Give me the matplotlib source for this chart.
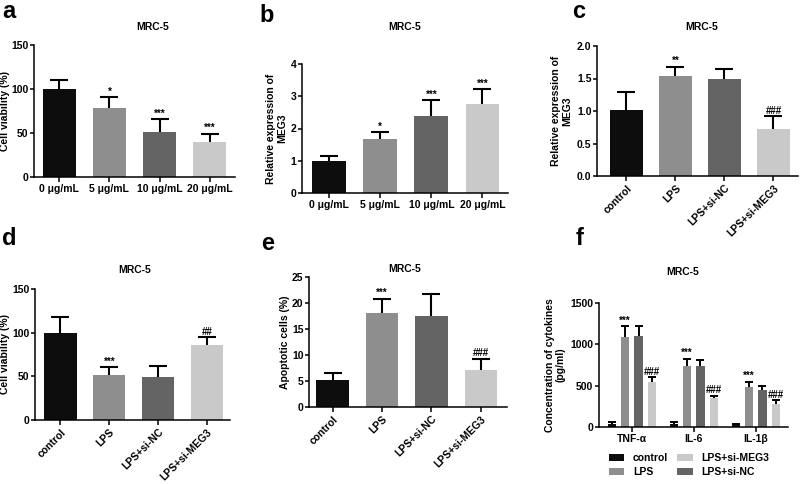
import matplotlib
matplotlib.use("Agg")
import matplotlib.pyplot as plt
from matplotlib.patches import Patch
import numpy as np

plt.rcParams['font.family'] = ['Liberation Sans', 'DejaVu Sans']
plt.rcParams['font.weight'] = 'bold'

# ---------------- data ----------------
dose_cats = ['0 μg/mL', '5 μg/mL', '10 μg/mL', '20 μg/mL']
grp_cats = ['control', 'LPS', 'LPS+si-NC', 'LPS+si-MEG3']

a_vals = [100, 78, 51, 40]
a_err = [10, 12.5, 14.5, 9]
a_sig = ['', '*', '***', '***']

b_vals = [1.0, 1.68, 2.38, 2.75]
b_err = [0.15, 0.21, 0.5, 0.47]
b_sig = ['', '*', '***', '***']

c_vals = [1.02, 1.54, 1.50, 0.72]
c_err = [0.28, 0.14, 0.15, 0.20]
c_sig = ['', '**', '', '###']

d_vals = [100, 51, 49, 85.5]
d_err = [18, 9.5, 13, 9]
d_sig = ['', '***', '', '##']

e_vals = [5.2, 18.1, 17.5, 7.1]
e_err = [1.3, 2.7, 4.3, 2.1]
e_sig = ['', '***', '', '###']

f_groups = ['TNF-α', 'IL-6', 'IL-1β']
f_series = ['control', 'LPS', 'LPS+si-NC', 'LPS+si-MEG3']
f_control = [41, 41, 29]
f_control_err = [14, 14, 7]
f_lps = [1094, 738, 486]
f_lps_err = [122, 85, 61]
f_sinc = [1102, 738, 446]
f_sinc_err = [122, 77, 52]
f_simeg3 = [539, 345, 284]
f_simeg3_err = [61, 36, 40]
f_sig = {'LPS': '***', 'LPS+si-MEG3': '###'}

colors = ['#0d0d0d', '#8e8e8e', '#646464', '#c9c9c9']
f_colors = {'control': '#0d0d0d', 'LPS': '#8e8e8e',
            'LPS+si-NC': '#646464', 'LPS+si-MEG3': '#c9c9c9'}

# ---------------- layout helpers ----------------
W, H = 800, 484
fig = plt.figure(figsize=(8, 4.84), dpi=100)
fig.patch.set_facecolor('white')

def add_ax(l, r, t, b):
    return fig.add_axes([l / W, 1 - b / H, (r - l) / W, (b - t) / H])

FS = 7.5

def style(ax, ylim, yticks, ylabel, lab_right_px, l, r, fmt=None):
    for s in ['top', 'right']:
        ax.spines[s].set_visible(False)
    for s in ['left', 'bottom']:
        ax.spines[s].set_linewidth(1.1)
    ax.set_ylim(*ylim)
    ax.set_yticks(yticks)
    if fmt:
        ax.set_yticklabels([fmt.format(v) for v in yticks])
    ax.tick_params(axis='both', direction='out', length=3.5, width=1.1,
                   labelsize=FS, pad=1.5)
    ax.tick_params(axis='y', pad=1.0, length=3)
    for t in ax.get_yticklabels() + ax.get_xticklabels():
        t.set_fontweight('bold')
    ax.set_ylabel(ylabel, fontsize=FS, fontweight='bold', linespacing=1.1)
    ax.yaxis.set_label_coords((lab_right_px - l) / (r - l), 0.5)

def bars(ax, vals, errs, sigs, width, capsize, xlim):
    x = np.arange(len(vals))
    ax.bar(x, vals, width=width, color=colors, edgecolor='none', zorder=2)
    eb = ax.errorbar(x, vals, yerr=[np.zeros(len(vals)), errs], fmt='none',
                     ecolor='black', elinewidth=1.5, capsize=capsize,
                     capthick=1.5, zorder=3)
    eb[1][0].set_visible(False)
    for xi, v, e, s in zip(x, vals, errs, sigs):
        if s:
            ax.annotate(s, (xi, v + e), xytext=(0, 0.5), textcoords='offset points',
                        ha='center', va='bottom', fontsize=7, fontweight='bold')
    ax.set_xlim(*xlim)
    ax.set_xticks(x)

def title(x, y, txt='MRC-5'):
    fig.text(x / W, 1 - y / H, txt, ha='center', va='center',
             fontsize=FS, fontweight='bold')

def letter(x, y, txt):
    fig.text(x / W, 1 - y / H, txt, ha='left', va='baseline',
             fontsize=17, fontweight='bold')

# ---------------- panel a ----------------
l, r, t, b = 34, 235, 45, 177
ax = add_ax(l, r, t, b)
bars(ax, a_vals, a_err, a_sig, 0.66, 6.5, (-0.5, 3.5))
ax.set_xticklabels(dose_cats)
style(ax, (0, 150), [0, 50, 100, 150], 'Cell viability (%)', 10, l, r)
title(153, 27)
letter(2, 18, 'a')

# ---------------- panel b ----------------
l, r, t, b = 302, 508, 64, 193
ax = add_ax(l, r, t, b)
bars(ax, b_vals, b_err, b_sig, 0.66, 6.5, (-0.53, 3.5))
ax.set_xticklabels(dose_cats)
style(ax, (0, 4), [0, 1, 2, 3, 4], 'Relative expression of\nMEG3', 287, l, r)
title(405, 27)
letter(259, 22, 'b')

# ---------------- panel c ----------------
l, r, t, b = 597, 798, 46, 176
ax = add_ax(l, r, t, b)
bars(ax, c_vals, c_err, c_sig, 0.66, 6.5, (-0.6, 3.5))
ax.set_xticklabels(grp_cats, rotation=45, ha='right', rotation_mode='anchor')
style(ax, (0, 2.0), [0.0, 0.5, 1.0, 1.5, 2.0], 'Relative expression of\nMEG3',
      572, l, r, fmt='{:.1f}')
title(702, 27)
letter(572, 18, 'c')

# ---------------- panel d ----------------
l, r, t, b = 35, 230, 289, 420
ax = add_ax(l, r, t, b)
bars(ax, d_vals, d_err, d_sig, 0.66, 6.5, (-0.52, 3.47))
ax.set_xticklabels(grp_cats, rotation=45, ha='right', rotation_mode='anchor')
style(ax, (0, 150), [0, 50, 100, 150], 'Cell viability (%)', 10, l, r)
title(135, 270)
letter(2, 245, 'd')

# ---------------- panel e ----------------
l, r, t, b = 309, 507, 277, 407
ax = add_ax(l, r, t, b)
bars(ax, e_vals, e_err, e_sig, 0.66, 6.5, (-0.48, 3.53))
ax.set_xticklabels(grp_cats, rotation=45, ha='right', rotation_mode='anchor')
style(ax, (0, 25), [0, 5, 10, 15, 20, 25], 'Apoptotic cells (%)', 290, l, r)
title(405, 269)
letter(261, 250, 'e')

# ---------------- panel f ----------------
l, r, t, b = 599, 788, 303, 427
ax = add_ax(l, r, t, b)
xg = np.arange(len(f_groups))
series_vals = {'control': (f_control, f_control_err),
               'LPS': (f_lps, f_lps_err),
               'LPS+si-NC': (f_sinc, f_sinc_err),
               'LPS+si-MEG3': (f_simeg3, f_simeg3_err)}
step = 0.215
bw = 0.135
for i, name in enumerate(f_series):
    vals, errs = series_vals[name]
    xs = xg + (i - 1.5) * step
    ax.bar(xs, vals, width=bw, color=f_colors[name], edgecolor='none', zorder=2)
    eb = ax.errorbar(xs, vals, yerr=[np.zeros(len(vals)), errs], fmt='none',
                     ecolor='black', elinewidth=1.4, capsize=2.8, capthick=1.4,
                     zorder=3)
    eb[1][0].set_visible(False)
    if name in f_sig:
        for xi, v, e in zip(xs, vals, errs):
            ax.annotate(f_sig[name], (xi, v + e), xytext=(0, 0.5),
                        textcoords='offset points', ha='center', va='bottom',
                        fontsize=7, fontweight='bold')
ax.set_xlim(-0.53, 2.52)
ax.set_xticks(xg)
ax.set_xticklabels(f_groups)
style(ax, (0, 1500), [0, 500, 1000, 1500], 'Concentration of cytokines\n(pg/ml)',
      566, l, r)
title(683, 272)
letter(576, 245, 'f')

handles = [Patch(facecolor=f_colors[n], edgecolor='none') for n in
           ['control', 'LPS', 'LPS+si-MEG3', 'LPS+si-NC']]
labels = ['control', 'LPS', 'LPS+si-MEG3', 'LPS+si-NC']
fig.legend(handles, labels, ncol=2, loc='center', bbox_to_anchor=(689 / W, 1 - 465 / H),
           frameon=False, prop={'size': FS, 'weight': 'bold'},
           handlelength=1.5, handleheight=0.6, handletextpad=0.8,
           columnspacing=0.9, labelspacing=0.4)

fig.savefig('out.png', dpi=100, facecolor='white')
